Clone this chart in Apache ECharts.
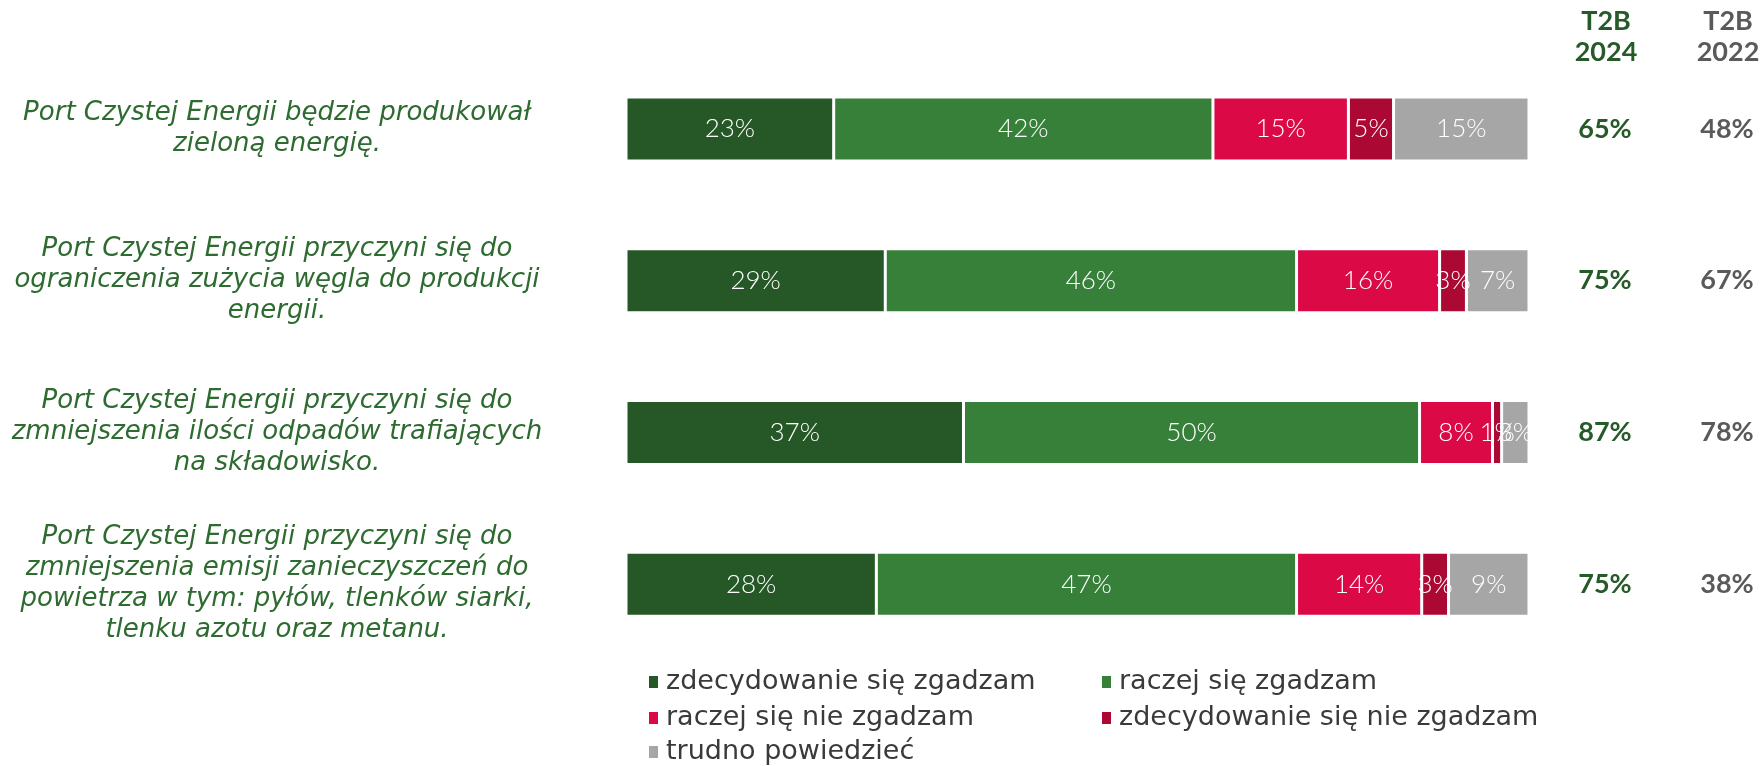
<!DOCTYPE html>
<html><head><meta charset="utf-8">
<script src="https://cdn.jsdelivr.net/npm/echarts@6/dist/echarts.min.js"></script>
<style>html,body{margin:0;padding:0;background:#fff}#c{width:1760px;height:766px}</style>
</head><body><div id="c"></div>
<script>
const categories = [
  'Port Czystej Energii będzie produkował\nzieloną energię.',
  'Port Czystej Energii przyczyni się do\nograniczenia zużycia węgla do produkcji\nenergii.',
  'Port Czystej Energii przyczyni się do\nzmniejszenia ilości odpadów trafiających\nna składowisko.',
  'Port Czystej Energii przyczyni się do\nzmniejszenia emisji zanieczyszczeń do\npowietrza w tym: pyłów, tlenków siarki,\ntlenku azotu oraz metanu.'
];
const seriesNames = ['zdecydowanie się zgadzam', 'raczej się zgadzam', 'raczej się nie zgadzam', 'zdecydowanie się nie zgadzam', 'trudno powiedzieć'];
const stronglyAgree = [23, 29, 37, 28];
const ratherAgree = [42, 46, 50, 47];
const ratherDisagree = [15, 16, 8, 14];
const stronglyDisagree = [5, 3, 1, 3];
const hardToSay = [15, 7, 3, 9];
const t2b2024 = [65, 75, 87, 75];
const t2b2022 = [48, 67, 78, 38];
const headers = ['T2B\n2024', 'T2B\n2022'];
const colors = ['#255826', '#37803a', '#db0a47', '#ab0834', '#a6a6a6'];

const allSeries = [stronglyAgree, ratherAgree, ratherDisagree, stronglyDisagree, hardToSay];
// 100% stacked: each row is normalised to its own total
const totals = categories.map((c, i) => allSeries.reduce((s, arr) => s + arr[i], 0));

const legendText = {fontFamily: 'DejaVu Sans', fontSize: 27, lineHeight: 30, color: '#3a3a3a', padding: [0, 0, 0, 2]};
// legend layout: two columns, three rows
const legendCols = [647, 1100];
const legendRowTops = [667, 703, 737];
const legendSlots = [[0, 0], [1, 0], [0, 1], [1, 1], [0, 2]];

const chart = echarts.init(document.getElementById('c'), null, {renderer: 'canvas'});
const option = {
  animation: false,
  backgroundColor: '#fff',
  title: [
    {text: headers[0], left: 1606, top: 6, textAlign: 'center', padding: 0,
      textStyle: {fontFamily: 'Lato', fontWeight: 'bold', fontSize: 27, lineHeight: 31, color: '#265a28'}},
    {text: headers[1], left: 1728, top: 6, textAlign: 'center', padding: 0,
      textStyle: {fontFamily: 'Lato', fontWeight: 'bold', fontSize: 27, lineHeight: 31, color: '#5a5a5a'}}
  ],
  grid: {left: 626, right: 231, top: 53, bottom: 106, containLabel: false},
  xAxis: {type: 'value', min: 0, max: 100, show: false},
  yAxis: [
    {
      type: 'category', data: categories, inverse: true,
      axisLine: {show: false}, axisTick: {show: false}, splitLine: {show: false},
      axisLabel: {
        margin: 349, align: 'center',
        fontFamily: 'DejaVu Sans', fontStyle: 'italic', fontSize: 26, lineHeight: 31, color: '#2e6b30'
      }
    },
    {
      type: 'category', data: categories, inverse: true, position: 'right',
      axisLine: {show: false}, axisTick: {show: false}, splitLine: {show: false},
      axisLabel: {
        margin: 15, align: 'left',
        formatter: (v, i) => '{a|' + t2b2024[i] + '%}{b|' + t2b2022[i] + '%}',
        rich: {
          a: {width: 122, align: 'center', fontFamily: 'Lato', fontWeight: 'bold', fontSize: 27, color: '#265a28'},
          b: {width: 122, align: 'center', fontFamily: 'Lato', fontWeight: 'bold', fontSize: 27, color: '#5a5a5a'}
        }
      }
    }
  ],
  legend: seriesNames.map((name, k) => ({
    data: [name],
    left: legendCols[legendSlots[k][0]], top: legendRowTops[legendSlots[k][1]],
    padding: 0, icon: 'rect', itemWidth: 11, itemHeight: 14,
    textStyle: legendText
  })),
  series: allSeries.map((arr, k) => ({
    name: seriesNames[k],
    type: 'bar',
    stack: 'total',
    barWidth: 64,
    yAxisIndex: 0,
    itemStyle: {color: colors[k], borderColor: '#ffffff', borderWidth: 1.5},
    label: {
      show: true, position: 'inside',
      formatter: p => p.data.raw + '%',
      fontFamily: 'Lato', fontWeight: 300, fontSize: 26, color: '#ffffff'
    },
    data: arr.map((v, i) => ({value: v / totals[i] * 100, raw: v}))
  }))
};
chart.setOption(option);
</script>
</body></html>
